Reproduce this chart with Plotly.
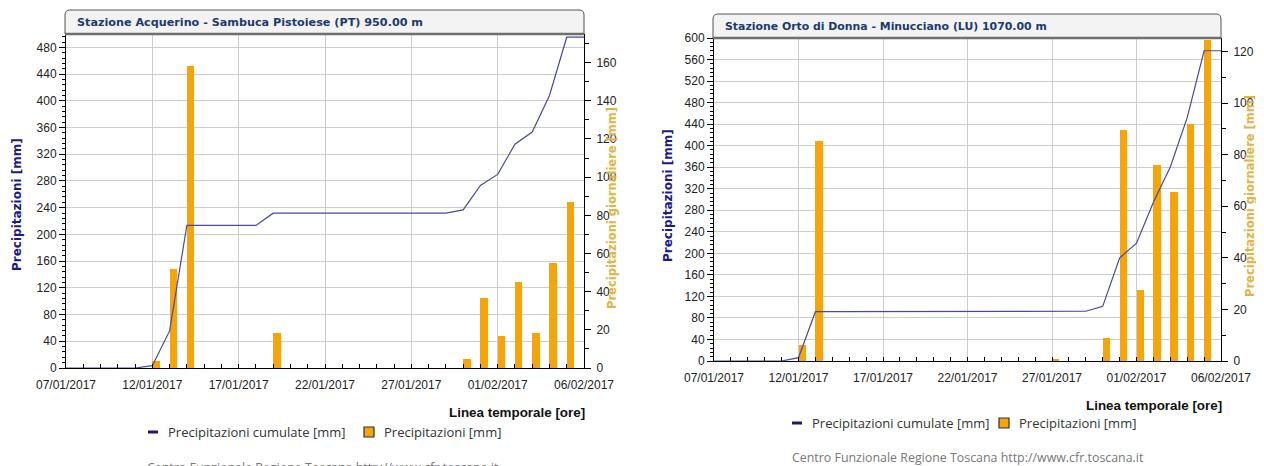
import pandas as pd
import plotly.graph_objects as go

# ---------------- data ----------------
days = pd.date_range("2017-01-07", "2017-02-06", freq="D").strftime("%Y-%m-%d").tolist()

tick_dates = ["2017-01-07", "2017-01-12", "2017-01-17", "2017-01-22", "2017-01-27", "2017-02-01", "2017-02-06"]
tick_labels = ["07/01/2017", "12/01/2017", "17/01/2017", "22/01/2017", "27/01/2017", "01/02/2017", "06/02/2017"]

# Stazione Acquerino
acq_title = "Stazione Acquerino - Sambuca Pistoiese (PT) 950.00 m"
acq_cum = [0, 0, 0, 0, 0, 3.5, 55.5, 213.5, 213.5, 213.5, 213.5, 213.5, 231.8, 231.8, 231.8,
           231.8, 231.8, 231.8, 231.8, 231.8, 231.8, 231.8, 231.8, 236.7, 273.2, 289.8, 335.0,
           353.2, 408.0, 495.2, 495.2]
acq_bar_dates = ["2017-01-12", "2017-01-13", "2017-01-14", "2017-01-19", "2017-01-30", "2017-01-31",
                 "2017-02-01", "2017-02-02", "2017-02-03", "2017-02-04", "2017-02-05"]
acq_bar_vals = [3.5, 52.0, 158.0, 18.3, 4.9, 36.5, 16.6, 45.2, 18.2, 54.8, 87.2]

# Stazione Orto di Donna
ort_title = "Stazione Orto di Donna - Minucciano (LU) 1070.00 m"
ort_cum = [0, 0, 0, 0, 0, 6.2, 91.6, 91.6, 91.6, 91.6, 91.6, 91.6, 91.6, 91.6, 91.6, 91.6,
           91.6, 91.6, 91.6, 91.6, 92.4, 92.4, 92.4, 101.5, 191.2, 218.9, 294.8, 360.3, 452.0,
           576.3, 576.3]
ort_bar_dates = ["2017-01-12", "2017-01-13", "2017-01-27", "2017-01-30", "2017-01-31", "2017-02-01",
                 "2017-02-02", "2017-02-03", "2017-02-04", "2017-02-05"]
ort_bar_vals = [6.2, 85.4, 0.8, 9.1, 89.7, 27.7, 75.9, 65.5, 91.7, 124.3]

name_cum = "Precipitazioni cumulate [mm]"
name_bar = "Precipitazioni [mm]"
y_left_title = "Precipitazioni [mm]"
y_right_title = "Precipitazioni giornaliere [mm]"
x_title = "Linea temporale [ore]"
footer = "Centro Funzionale Regione Toscana http://www.cfr.toscana.it"

# ---------------- style ----------------
PAGE_OFF = 8            # default body margin of the html page
FW, FH = 1256, 458      # figure size so that it fills the 1264x466 window
def px(x): return (x - PAGE_OFF) / FW
def py(y): return 1 - (y - PAGE_OFF) / FH

LINE_C = "#4848a0"
BAR_C = "#f5a50a"
NAVY_T = "#1d3a6e"
BLUE_T = "#1a1a8e"
GOLD_T = "#e3b445"
GRID_C = "#cdcdcd"
TICK_FONT = dict(family="Liberation Sans, Arial, sans-serif", size=12, color="#222")
LEG_FONT = dict(family="Open Sans, sans-serif", size=13, color="#333")
DAY_MS = 86400000

fig = go.Figure()

charts = [
    dict(title=acq_title, cum=acq_cum, bd=acq_bar_dates, bv=acq_bar_vals,
         x0=66, x1=584, ytop=34, ybot=368, tb_top=10, tsize=11.2,
         lrange=[0, 500], rrange=[0, 175], xa="x", ya="y", ya2="y2",
         ylt_x=17, ylt_y=205, yrt_x=612, yrt_y=208, xt_y=412,
         leg_y=432, leg_dash=153, leg_t1=166, leg_sq=369, leg_t2=382,
         foot_y=467, foot_x=323),
    dict(title=ort_title, cum=ort_cum, bd=ort_bar_dates, bv=ort_bar_vals,
         x0=714, x1=1221, ytop=38, ybot=361, tb_top=14, tsize=10.9,
         lrange=[0, 600], rrange=[0, 125.2], xa="x2", ya="y3", ya2="y4",
         ylt_x=668, ylt_y=196, yrt_x=1250, yrt_y=196, xt_y=405,
         leg_y=423, leg_dash=797, leg_t1=810, leg_sq=1004, leg_t2=1017,
         foot_y=457, foot_x=968),
]

annotations = []
shapes = []
layout_axes = {}

for i, c in enumerate(charts):
    # bars on the (right side) base axis, line on the overlaying (left side) axis so the line is on top
    fig.add_trace(go.Bar(x=c["bd"], y=c["bv"], xaxis=c["xa"], yaxis=c["ya"],
                         marker=dict(color=BAR_C, line=dict(width=0)),
                         width=0.43 * DAY_MS, offset=0, showlegend=False, name=name_bar,
                         hoverinfo="x+y"))
    fig.add_trace(go.Scatter(x=days, y=c["cum"], xaxis=c["xa"], yaxis=c["ya2"], mode="lines",
                             line=dict(color=LINE_C, width=1.2), showlegend=False, name=name_cum))

    xk = "xaxis" if i == 0 else "xaxis2"
    yk = "yaxis" if i == 0 else "yaxis3"
    y2k = "yaxis2" if i == 0 else "yaxis4"
    ydom = [py(c["ybot"]), py(c["ytop"])]
    layout_axes[xk] = dict(
        domain=[px(c["x0"]), px(c["x1"])], anchor=c["ya"], type="date", automargin=False,
        range=["2017-01-07", "2017-02-06"], tickmode="array", tickvals=tick_dates, ticktext=tick_labels,
        showgrid=True, gridcolor=GRID_C, gridwidth=1, ticks="inside", ticklen=4, tickcolor="#000",
        ticklabelstandoff=6,
        minor=dict(dtick=DAY_MS, tick0="2017-01-07", ticks="inside", ticklen=4, tickcolor="#000", showgrid=False),
        showline=True, linecolor="#000", linewidth=1, tickfont=TICK_FONT, zeroline=False, fixedrange=True)
    layout_axes[yk] = dict(
        domain=ydom, anchor=c["xa"], side="right", range=c["rrange"], tick0=0, dtick=20, automargin=False,
        ticks="outside", ticklen=6, tickcolor="#000", showgrid=False, zeroline=False, ticklabelstandoff=3,
        minor=dict(dtick=10, ticks="outside", ticklen=4, tickcolor="#000"),
        showline=True, linecolor="#000", linewidth=1, tickfont=TICK_FONT)
    layout_axes[y2k] = dict(
        overlaying=c["ya"], anchor=c["xa"], side="left", range=c["lrange"], tick0=0, dtick=40,
        automargin=False,
        ticks="outside", ticklen=6, tickcolor="#000", showgrid=True, gridcolor=GRID_C, zeroline=False,
        minor=dict(dtick=8, ticks="outside", ticklen=3, tickcolor="#000"),
        showline=True, linecolor="#000", linewidth=1, tickfont=TICK_FONT)

    # title box with rounded top corners
    x0, x1 = c["x0"] - 1, c["x1"]
    yt, yb, r = c["tb_top"], c["ytop"], 5
    path = (f"M {px(x0)},{py(yb)} L {px(x0)},{py(yt + r)} Q {px(x0)},{py(yt)} {px(x0 + r)},{py(yt)} "
            f"L {px(x1 - r)},{py(yt)} Q {px(x1)},{py(yt)} {px(x1)},{py(yt + r)} L {px(x1)},{py(yb)} Z")
    shapes.append(dict(type="path", path=path, xref="paper", yref="paper",
                       fillcolor="#f3f3f3", line=dict(color="#555", width=1), layer="above"))
    shapes.append(dict(type="line", xref="paper", yref="paper", x0=px(x0), x1=px(x1),
                       y0=py(yb), y1=py(yb), line=dict(color="#6e6e6e", width=2.5), layer="above"))
    annotations.append(dict(text=c["title"], x=px(c["x0"] + 9), y=py((yt + yb) / 2 + 0.5), xref="paper",
                            yref="paper", xanchor="left", yanchor="middle", showarrow=False,
                            font=dict(family="DejaVu Sans, Verdana, sans-serif", size=c["tsize"], color=NAVY_T,
                                      weight="bold")))
    annotations.append(dict(text=y_left_title, x=px(c["ylt_x"]), y=py(c["ylt_y"]), xref="paper", yref="paper",
                            textangle=-90, showarrow=False, xanchor="center", yanchor="middle",
                            font=dict(family="DejaVu Sans, Verdana, sans-serif", size=12, color=BLUE_T,
                                      weight="bold")))
    annotations.append(dict(text=y_right_title, x=px(c["yrt_x"]), y=py(c["yrt_y"]), xref="paper", yref="paper",
                            textangle=-90, showarrow=False, xanchor="center", yanchor="middle",
                            font=dict(family="DejaVu Sans, Verdana, sans-serif", size=11.5, color=GOLD_T,
                                      weight="bold")))
    annotations.append(dict(text=x_title, x=px(c["x1"] + 3), y=py(c["xt_y"]), xref="paper", yref="paper",
                            showarrow=False, xanchor="right", yanchor="middle",
                            font=dict(family="Liberation Sans, Arial, sans-serif", size=13.4, color="#111",
                                      weight="bold")))
    annotations.append(dict(text=footer, x=px(c["foot_x"]), y=py(c["foot_y"]), xref="paper", yref="paper",
                            showarrow=False, xanchor="center", yanchor="middle",
                            font=dict(family="Open Sans, sans-serif", size=12.4, color="#777")))

    # legend (drawn as a small key below each chart)
    ly = c["leg_y"]
    shapes.append(dict(type="line", xref="paper", yref="paper",
                       x0=px(c["leg_dash"] - 5), x1=px(c["leg_dash"] + 5), y0=py(ly), y1=py(ly),
                       line=dict(color="#1a1a6e", width=3)))
    shapes.append(dict(type="rect", xref="paper", yref="paper",
                       x0=px(c["leg_sq"] - 5), x1=px(c["leg_sq"] + 5), y0=py(ly + 5), y1=py(ly - 5),
                       fillcolor=BAR_C, line=dict(color="#333", width=1.2)))
    annotations.append(dict(text=name_cum, x=px(c["leg_t1"]), y=py(ly), xref="paper", yref="paper",
                            showarrow=False, xanchor="left", yanchor="middle", font=LEG_FONT))
    annotations.append(dict(text=name_bar, x=px(c["leg_t2"]), y=py(ly), xref="paper", yref="paper",
                            showarrow=False, xanchor="left", yanchor="middle", font=LEG_FONT))

fig.update_layout(
    width=FW, height=FH, margin=dict(l=0, r=0, t=0, b=0, autoexpand=False), showlegend=False,
    paper_bgcolor="white", plot_bgcolor="white", bargap=0, barmode="overlay",
    annotations=annotations, shapes=shapes, **layout_axes)

fig.write_html("out.html")
